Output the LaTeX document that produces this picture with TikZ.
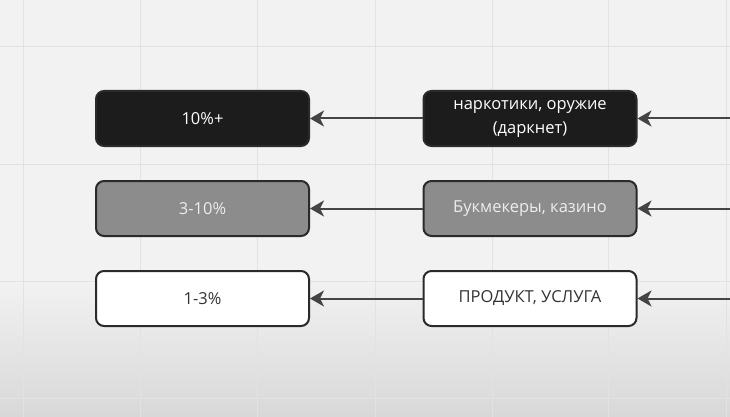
\documentclass[tikz,border=0pt]{standalone}
\usepackage{fontspec}
\setmainfont{Open Sans}
\usetikzlibrary{arrows.meta}
\definecolor{boardgray}{HTML}{F2F2F2}
\definecolor{floorgray}{HTML}{D8D8D8}
\definecolor{gridgray}{HTML}{E2E2E2}
\definecolor{edgegray}{HTML}{2A2A2A}
\definecolor{linkgray}{HTML}{444444}
\definecolor{darkfill}{HTML}{1C1C1C}
\definecolor{midfill}{HTML}{8C8C8C}
\tikzset{
  box/.style={draw=edgegray,line width=2pt,rounded corners=8pt,minimum width=213pt,minimum height=55pt,align=center,font=\fontsize{16.5}{24}\selectfont},
  link/.style={-{Stealth[length=14pt,width=16pt,inset=4pt]},line width=2pt,draw=linkgray}
}
\begin{document}
\begin{tikzpicture}[x=1pt,y=-1pt]
      \useasboundingbox (0,0) rectangle (730,417);
      \clip (0,0) rectangle (730,417);
      \fill[boardgray] (0,0) rectangle (730,417);
      \shade[top color=boardgray,bottom color=floorgray] (0,280) rectangle (730,417);
      \foreach \x in {23,140,257,375,492,608,726}
        \draw[gridgray,line width=1pt] (\x,0) -- (\x,417);
      \foreach \y in {47,164,281,398}
        \draw[gridgray,line width=1pt] (0,\y) -- (730,\y);
      % rates
      \node[box,fill=darkfill,text=white] (high) at (202.5,118.5) {10\%+};
      \node[box,fill=midfill,text=white!93!black] (mid) at (202.5,208.5) {3-10\%};
      \node[box,fill=white,text=black!80] (low) at (202.5,298.5) {1-3\%};
      % sources
      \node[box,fill=darkfill,text=white] (dark) at (530,118.5) {наркотики, оружие\\(даркнет)};
      \node[box,fill=midfill,text=white!93!black] (bets) at (530,208.5) {Букмекеры, казино};
      \node[box,fill=white,text=black!80] (goods) at (530,298.5) {ПРОДУКТ, УСЛУГА};
      \coordinate (inhigh) at (735,118.5);
      \coordinate (inmid) at (735,208.5);
      \coordinate (inlow) at (735,298.5);
      \draw[link] (inhigh) -- (dark.east);
      \draw[link] (inmid) -- (bets.east);
      \draw[link] (inlow) -- (goods.east);
      \draw[link] (dark) -- (high);
      \draw[link] (bets) -- (mid);
      \draw[link] (goods) -- (low);
    \end{tikzpicture}
\end{document}
